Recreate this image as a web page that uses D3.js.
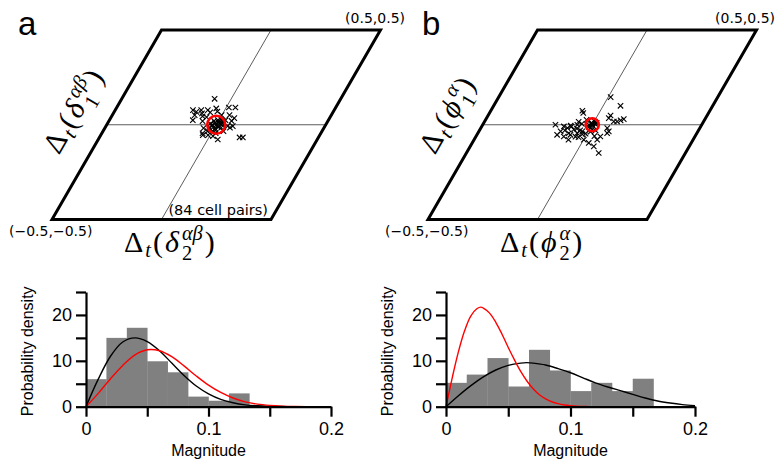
<!DOCTYPE html>
<html>
<head>
<meta charset="utf-8">
<script src="https://cdn.jsdelivr.net/npm/d3@7"></script>
<style>
body { margin: 0; background: #fff; }
text { font-family: "Liberation Sans", Arial, sans-serif; }
.math text { font-family: "Liberation Serif", "DejaVu Serif", serif; }
.tick text { font-family: "Liberation Sans", Arial, sans-serif; }
</style>
</head>
<body>
<svg id="fig" width="779" height="462"></svg>
<script>
// ---- data ----
const binWidth = 1 / 60;
const histA = [6.0, 15.0, 17.2, 9.9, 7.5, 2.2, 1.3, 2.9];
const histB = [5.2, 7.0, 10.6, 4.4, 12.4, 7.9, 3.4, 5.2, 3.4, 6.1];

// fitted densities (magnitude, density)
const blackA = [[0,0],[0.01,6.0],[0.02,11.0],[0.03,14.1],[0.04,15.0],[0.05,14.2],[0.06,12.2],[0.07,9.5],
  [0.08,6.8],[0.09,4.5],[0.10,2.8],[0.11,1.6],[0.12,0.85],[0.13,0.4],[0.14,0.2],[0.15,0.08],[0.16,0.03],[0.17,0.01],[0.18,0]];
const redA = [[0,0],[0.01,2.9],[0.02,6.1],[0.03,9.0],[0.04,11.3],[0.05,12.4],[0.06,12.2],[0.07,10.9],[0.08,8.9],
  [0.09,6.7],[0.10,4.7],[0.11,3.1],[0.12,1.9],[0.13,1.05],[0.14,0.55],[0.15,0.28],[0.16,0.13],[0.17,0.05],[0.18,0.02],[0.19,0]];
const blackB = [[0,0],[0.01,2.4],[0.02,4.6],[0.03,6.5],[0.04,8.0],[0.05,9.0],[0.06,9.5],[0.065,9.6],[0.07,9.5],[0.08,9.1],
  [0.09,8.3],[0.10,7.4],[0.11,6.3],[0.12,5.2],[0.13,4.3],[0.14,3.5],[0.15,2.7],[0.16,1.9],[0.17,1.25],[0.18,0.8],[0.19,0.45],[0.20,0.2]];
const redB = [[0,0],[0.005,6.3],[0.01,12.0],[0.015,16.6],[0.02,19.8],[0.025,21.4],[0.028,21.7],[0.03,21.5],[0.035,20.4],
  [0.04,18.4],[0.045,15.8],[0.05,12.9],[0.055,10.2],[0.06,7.7],[0.065,5.6],[0.07,3.9],[0.075,2.6],[0.08,1.7],
  [0.085,1.08],[0.09,0.66],[0.095,0.38],[0.10,0.22],[0.105,0.12],[0.11,0.05],[0.115,0]];

// phase differences on the torus, (u, v) in [-0.5, 0.5]
const scatterA = [[-0.076,0.137],[-0.145,0.077],[-0.125,0.068],[-0.124,0.051],[-0.119,0.024],[-0.107,0.077],[-0.077,0.077],
  [-0.043,0.086],[0.012,0.091],[0.042,0.091],[0.035,0.051],[0.079,-0.007],[-0.034,-0.055],[0.015,-0.060],[0.046,-0.078],
  [0.140,-0.067],[0.155,-0.067],[-0.072,0.019],[-0.049,-0.018],[-0.023,-0.034],[0.050,-0.034],[0.030,0.024],[0.055,-0.007],
  [-0.064,0.040],[-0.001,0.051],[-0.095,0.060],[-0.060,0.065],[-0.040,-0.045],[0.060,0.020],[0.070,-0.015],[-0.085,0.045],
  [0.020,-0.045],[-0.010,-0.055],[0.065,0.035],[-0.030,0.070],
  [0,0],[0.01,0.01],[-0.01,0.01],[0.015,-0.01],[-0.015,-0.005],[0.02,0.02],[-0.02,0.02],[0.005,-0.02],[-0.005,0.025],
  [0.025,0.0],[-0.025,-0.015],[0.01,-0.03],[-0.012,-0.025],[0.03,-0.015],[0.022,0.01],[-0.03,0.005],[0.0,0.015],
  [0.012,0.025],[-0.018,0.0],[0.008,-0.008]];
const scatterB = [[0.011,0.146],[0.079,0.100],[-0.082,0.074],[-0.072,0.062],[0.059,0.049],[0.058,0.035],[0.129,0.030],
  [0.118,0.023],[0.105,0.017],[0.090,0.017],[-0.168,0.0],[-0.125,-0.009],[-0.105,-0.017],[-0.096,-0.005],[-0.068,0.0],
  [-0.071,-0.026],[-0.127,-0.035],[-0.134,-0.053],[-0.099,-0.062],[-0.073,-0.053],[-0.047,-0.044],[-0.028,-0.035],
  [0.077,-0.017],[0.093,-0.035],[0.090,-0.044],[0.001,-0.079],[0.032,-0.096],[0.064,-0.114],[0.104,-0.149],[0.068,-0.062],
  [0.062,-0.079],[-0.070,0.016],[-0.039,0.026],[-0.045,-0.063],[-0.069,-0.079],[-0.007,-0.047],[0.011,-0.037],
  [-0.09,-0.01],[-0.11,-0.03],[-0.06,-0.02],[-0.085,-0.045],[-0.05,0.005],[-0.04,-0.03],[-0.02,-0.05],[0.03,-0.03],
  [0.04,-0.06],[-0.03,-0.065],
  [0,0],[0.01,0.005],[-0.008,0.01],[0.012,-0.01],[-0.01,-0.012],[0.005,0.015],[-0.015,0.0],[0.015,0.01],[0.0,-0.015],[-0.005,0.005]];
const ringA = 0.041;   // radius of mean circle, in torus units
const ringB = 0.030;
const cellPairsNote = "(84 cell pairs)";
const magTicks = [0, 0.05, 0.1, 0.15, 0.2];
const densTicks = [0, 5, 10, 15, 20, 25];

const svg = d3.select("#fig");

// parallelogram geometry
const W = 219, H = 189.5, skew = 109.5, baseY = 219.5;

const panels = [
  { letter: "a", ox: 52, letterX: 18, pts: scatterA, ring: ringA, hiLabel: [405, 23], loLabel: [9, 236],
    left: [{t:"Δ"},{t:"t",sub:true,it:true},{t:"("},{t:"δ",it:true},{stack:["αβ","1"]},{t:")"}],
    bottom: [{t:"Δ"},{t:"t",sub:true,it:true},{t:"("},{t:"δ",it:true},{stack:["αβ","2"]},{t:")"}],
    hx: [86, 331], hist: histA, black: blackA, red: redA, note: cellPairsNote },
  { letter: "b", ox: 428, letterX: 422, pts: scatterB, ring: ringB, hiLabel: [775, 23], loLabel: [385, 236],
    left: [{t:"Δ"},{t:"t",sub:true,it:true},{t:"("},{t:"ϕ",it:true},{stack:["α","1"]},{t:")"}],
    bottom: [{t:"Δ"},{t:"t",sub:true,it:true},{t:"("},{t:"ϕ",it:true},{stack:["α","2"]},{t:")"}],
    hx: [446, 695], hist: histB, black: blackB, red: redB, note: null }
];

function drawMath(parent, parts, size) {
  let x = 0;
  parts.forEach(p => {
    if (p.stack) {
      const s1 = parent.append("text").attr("x", x + 1).attr("y", -size * 0.4)
        .style("font-size", size * 0.68 + "px").style("font-style", "italic").text(p.stack[0]);
      const s2 = parent.append("text").attr("x", x + 1).attr("y", size * 0.28)
        .style("font-size", size * 0.68 + "px").text(p.stack[1]);
      x += Math.max(s1.node().getComputedTextLength(), s2.node().getComputedTextLength()) + 3;
    } else {
      const fs = p.sub ? size * 0.68 : size;
      const t = parent.append("text").attr("x", x).attr("y", p.sub ? size * 0.17 : 0)
        .style("font-size", fs + "px").style("font-style", p.it ? "italic" : "normal").text(p.t);
      x += t.node().getComputedTextLength() + 2;
    }
  });
  return x;
}

panels.forEach(p => {
  const u = d3.scaleLinear([-0.5, 0.5], [0, W]);
  const v = d3.scaleLinear([-0.5, 0.5], [0, H]);
  const px = (a, b) => p.ox + u(a) + v(b) * skew / H;
  const py = (a, b) => baseY - v(b);

  const g = svg.append("g");

  // centre lines
  g.append("line").attr("x1", px(-0.5, 0)).attr("y1", py(-0.5, 0)).attr("x2", px(0.5, 0)).attr("y2", py(0.5, 0))
    .attr("stroke", "#333").attr("stroke-width", 0.8);
  g.append("line").attr("x1", px(0, -0.5)).attr("y1", py(0, -0.5)).attr("x2", px(0, 0.5)).attr("y2", py(0, 0.5))
    .attr("stroke", "#333").attr("stroke-width", 0.8);

  // frame
  const corners = [[-0.5,-0.5],[0.5,-0.5],[0.5,0.5],[-0.5,0.5]];
  g.append("path")
    .attr("d", "M" + corners.map(c => px(c[0], c[1]) + "," + py(c[0], c[1])).join("L") + "Z")
    .attr("fill", "none").attr("stroke", "#000").attr("stroke-width", 3).attr("stroke-linejoin", "miter");

  // crosses
  const s = 2.7;
  g.selectAll("path.cross").data(p.pts).enter().append("path")
    .attr("class", "cross")
    .attr("d", `M${-s},${-s}L${s},${s}M${-s},${s}L${s},${-s}`)
    .attr("transform", d => `translate(${px(d[0], d[1])},${py(d[0], d[1])})`)
    .attr("stroke", "#000").attr("stroke-width", 1.1).attr("fill", "none");

  // mean circle
  g.append("circle").attr("cx", px(0, 0)).attr("cy", py(0, 0)).attr("r", u(p.ring) - u(0))
    .attr("fill", "none").attr("stroke", "#f00").attr("stroke-width", 2.6);

  // texts
  svg.append("text").attr("x", p.letterX).attr("y", 35).style("font-size", "33px").text(p.letter);
  svg.append("text").attr("x", p.hiLabel[0]).attr("y", p.hiLabel[1]).attr("text-anchor", "end")
    .style("font-family", "DejaVu Sans").style("font-size", "14px").text("(0.5,0.5)");
  svg.append("text").attr("x", p.loLabel[0]).attr("y", p.loLabel[1])
    .style("font-family", "DejaVu Sans").style("font-size", "14px").text("(\u22120.5,\u22120.5)");
  if (p.note) {
    svg.append("text").attr("x", px(0.5, -0.5) - 3).attr("y", baseY - 5).attr("text-anchor", "end")
      .style("font-family", "DejaVu Sans").style("font-size", "14.5px").text(p.note);
  }

  const angle = -Math.atan2(H, skew) * 180 / Math.PI;
  const lm = svg.append("g").attr("class", "math")
    .attr("transform", `translate(${p.ox + 7},${baseY - 64}) rotate(${angle})`);
  drawMath(lm, p.left, 30);
  const bm = svg.append("g").attr("class", "math")
    .attr("transform", `translate(${p.ox + 72},${baseY + 32})`);
  drawMath(bm, p.bottom, 30);

  // ---- histogram ----
  const x = d3.scaleLinear([0, 0.2], p.hx);
  const y = d3.scaleLinear([0, 25], [406.7, 292]);
  const h = svg.append("g");

  h.selectAll("rect").data(p.hist).enter().append("rect")
    .attr("x", (d, i) => x(i * binWidth))
    .attr("width", x(binWidth) - x(0) + 0.3)
    .attr("y", d => y(d))
    .attr("height", d => y(0) - y(d))
    .attr("fill", "#808080");

  const line = d3.line().x(d => x(d[0])).y(d => y(d[1])).curve(d3.curveCatmullRom);
  h.append("path").attr("d", line(p.black)).attr("fill", "none").attr("stroke", "#000").attr("stroke-width", 1.4);
  h.append("path").attr("d", line(p.red)).attr("fill", "none").attr("stroke", "#f00").attr("stroke-width", 1.4);

  const xAxis = d3.axisBottom(x).tickValues(magTicks).tickSize(10).tickSizeOuter(0).tickPadding(6)
    .tickFormat(d => (Math.abs(d * 10 - Math.round(d * 10)) < 1e-9 ? d3.format("")(+d.toFixed(1)) : ""));
  const yAxis = d3.axisLeft(y).tickValues(densTicks).tickSize(10).tickSizeOuter(0).tickPadding(4)
    .tickFormat(d => (d % 10 === 0 ? d : ""));

  const xa = h.append("g").attr("transform", `translate(0,${y(0)})`).call(xAxis);
  const ya = h.append("g").attr("transform", `translate(${x(0)},0)`).call(yAxis);
  [xa, ya].forEach(a => {
    a.select(".domain").attr("stroke-width", 2.2);
    a.selectAll(".tick line").attr("stroke-width", 2.2);
    a.selectAll(".tick text").style("font-size", "18px").attr("fill", "#000");
  });

  h.append("text").attr("x", (p.hx[0] + p.hx[1]) / 2).attr("y", 456).attr("text-anchor", "middle")
    .style("font-size", "16px").text("Magnitude");
  h.append("text").attr("transform", `translate(${p.hx[0] - 53},${(y(0) + y(25)) / 2 + 2}) rotate(-90)`)
    .attr("text-anchor", "middle").style("font-size", "16px").text("Probability density");
});
</script>
</body>
</html>
